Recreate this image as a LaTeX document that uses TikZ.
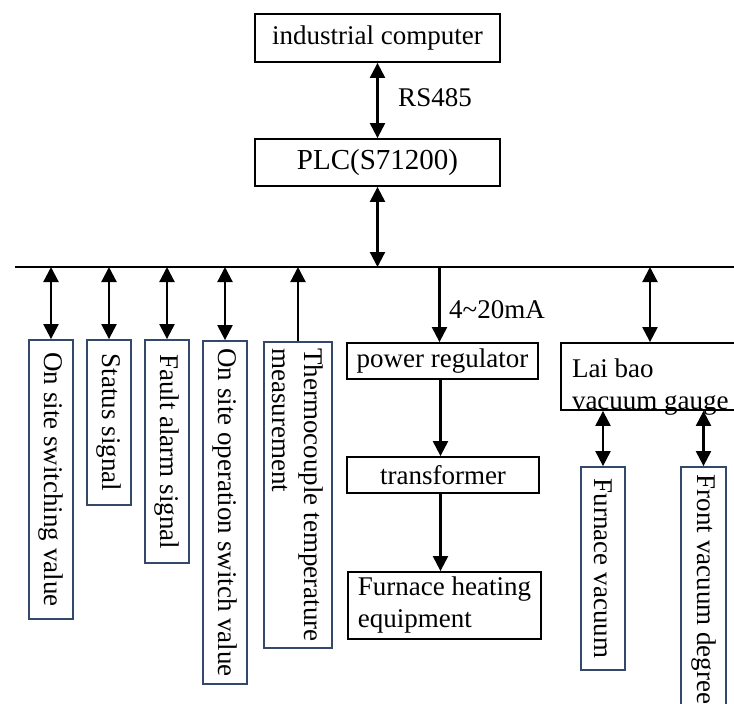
\documentclass[tikz,border=0pt]{standalone}
\usepackage{fontspec}
\setmainfont{Liberation Serif}
\usetikzlibrary{arrows.meta}
\definecolor{framegray}{RGB}{52,72,108}
\begin{document}
\begin{tikzpicture}[x=1pt, y=-1pt,
  every node/.style={font=\fontsize{27}{32}\selectfont, inner sep=0pt},
  hbox/.style={draw=black, line width=1.8pt},
  vbox/.style={draw=framegray, line width=1.8pt, rotate=-90},
  link/.style={line width=2.2pt},
  duplex/.style={link, {Triangle[length=15pt,width=15pt]}-{Triangle[length=15pt,width=15pt]}},
  oneway/.style={link, -{Triangle[length=15pt,width=15pt]}},
]
\useasboundingbox (0,0) rectangle (734,704);
\clip (0,0) rectangle (734,704);
\fill[white] (0,0) rectangle (734,704);

% controller chain
\node[hbox, minimum width=245pt, minimum height=48pt] (ipc) at (377.5,38) {industrial computer};
\node[hbox, minimum width=245pt, minimum height=47pt, font=\fontsize{29}{32}\selectfont] (plc) at (377.5,162.5) {PLC(S71200)};
\draw[duplex] (ipc.south) -- (plc.north);
\node (rs) at (435,98) {RS485};

% field bus
\coordinate (busL) at (15,267);
\coordinate (busR) at (740,267);
\draw[line width=2.6pt] (busL) -- (busR);
\draw[duplex] (plc.south) -- (plc.south |- busL);

% discrete signals
\node[vbox, minimum width=279pt, minimum height=44pt] (sw) at (51,479.5) {On site switching value};
\node[vbox, minimum width=165pt, minimum height=44pt] (st) at (109,422.5) {Status signal};
\node[vbox, minimum width=223pt, minimum height=44pt] (fa) at (167,451.5) {Fault alarm signal};
\node[vbox, minimum width=343pt, minimum height=44pt] (op) at (225,512.5) {On site operation switch value};
\node[vbox, minimum width=306pt, minimum height=68pt, align=left] (tc) at (298,495) {Thermocouple temperature\\measurement};
\foreach \b in {sw,st,fa,op} \draw[duplex] (\b.west |- busL) -- (\b.west);
\draw[oneway] (tc.west) -- (tc.west |- busL);

% heating path
\node[hbox, minimum width=191pt, minimum height=36pt] (pr) at (442.5,361) {power regulator};
\node[hbox, minimum width=192pt, minimum height=36pt] (tf) at (443,475) {transformer};
\node[hbox, minimum width=193pt, minimum height=67pt, align=left] (fh) at (444.5,605.5) {Furnace heating\\equipment};
\draw[oneway] ([xshift=-3pt]pr.north |- busL) -- ([xshift=-3pt]pr.north);
\node[anchor=west] (ma) at (449,310) {4\textasciitilde 20mA};
\draw[oneway] ([xshift=-2pt]pr.south) -- ([xshift=-2pt]pr.south |- tf.north);
\draw[oneway] ([xshift=-2pt]pr.south |- tf.south) -- ([xshift=-2pt]pr.south |- fh.north);

% vacuum measurement
\node[hbox, minimum width=200pt, minimum height=67pt] (gauge) at (661,376.5)
  {\raisebox{0pt}[34pt][33pt]{\parbox[t]{178pt}{Lai bao\\vacuum gauge}}};
\draw[duplex] ([xshift=-11pt]gauge.north |- busL) -- ([xshift=-11pt]gauge.north);
\node[vbox, minimum width=203pt, minimum height=44pt] (fv) at (603,568.5) {Furnace vacuum};
\node[vbox, minimum width=245pt, minimum height=45pt] (fd) at (703.5,589.5) {Front vacuum degree};
\draw[duplex] (fv.west |- gauge.south) -- (fv.west);
\draw[duplex] (fd.west |- gauge.south) -- (fd.west);
\end{tikzpicture}
\end{document}
